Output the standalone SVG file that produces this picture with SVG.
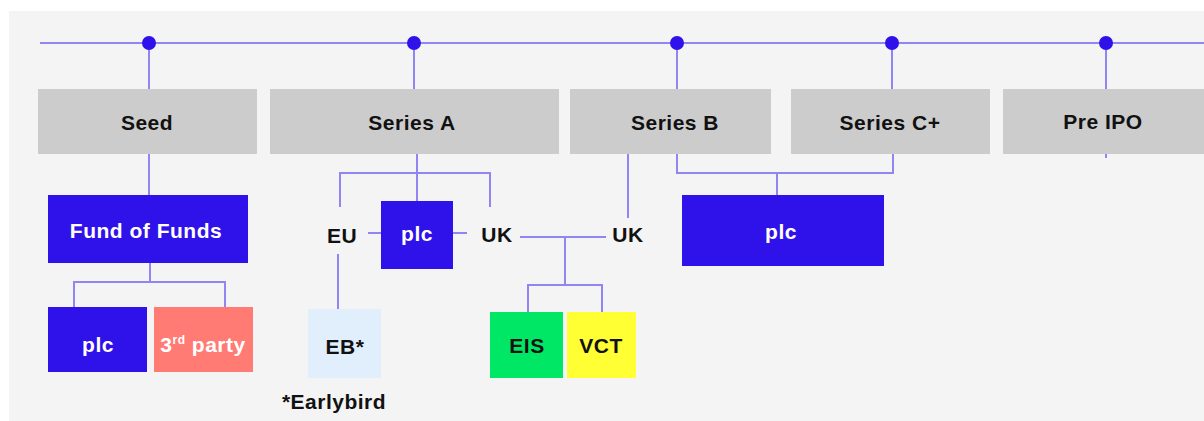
<svg xmlns="http://www.w3.org/2000/svg" width="1204" height="421" viewBox="0 0 1204 421">
<style>
.ln{stroke:#9085f2;stroke-width:2;fill:none}
.dot{fill:#2f12ea}
.stage{fill:#cccccc}
.blue{fill:#2f12ea}
.t{font-family:"Liberation Sans",Arial,sans-serif;font-weight:bold;font-size:21px;text-anchor:middle;letter-spacing:0.5px}
.dk{fill:#111111}
.wh{fill:#ffffff}
</style>
<rect x="0" y="0" width="1204" height="421" fill="#ffffff"/>
<rect x="9" y="11" width="1195" height="410" fill="#f4f4f4"/>
<g id="connectors">
<path class="ln" d="M40 43H1204"/>
<path class="ln" d="M149 43V89M414 43V89M677 43V89M892 43V89M1106 43V89M1106 154V158"/>
<path class="ln" d="M149 154V195"/>
<path class="ln" d="M150 263V282M74 307V282H225V307"/>
<path class="ln" d="M417 154V201M340 207V173H490V207"/>
<path class="ln" d="M368 233H381M453 233H467"/>
<path class="ln" d="M338 254V310"/>
<path class="ln" d="M520 237H606M565 237V285M528 312V285H602V312"/>
<path class="ln" d="M628 154V218"/>
<path class="ln" d="M677 154V173H893V154M777 173V195"/>
</g>
<g id="dots">
<circle class="dot" cx="149" cy="43" r="7"/>
<circle class="dot" cx="414" cy="43" r="7"/>
<circle class="dot" cx="677" cy="43" r="7"/>
<circle class="dot" cx="892" cy="43" r="7"/>
<circle class="dot" cx="1106" cy="43" r="7"/>
</g>
<g id="seed"><rect class="stage" x="38" y="89" width="219" height="65"/><text class="t dk" x="147" y="130">Seed</text></g>
<g id="series-a"><rect class="stage" x="270" y="89" width="289" height="65"/><text class="t dk" x="412" y="130">Series A</text></g>
<g id="series-b"><rect class="stage" x="570" y="89" width="201" height="65"/><text class="t dk" x="675" y="130">Series B</text></g>
<g id="series-c"><rect class="stage" x="791" y="89" width="199" height="65"/><text class="t dk" x="890" y="130">Series C+</text></g>
<g id="pre-ipo"><rect class="stage" x="1003" y="89" width="201" height="65"/><text class="t dk" x="1103" y="129">Pre IPO</text></g>
<g id="fund-of-funds"><rect class="blue" x="48" y="195" width="200" height="68"/><text class="t wh" x="146" y="238">Fund of Funds</text></g>
<g id="plc-seed"><rect class="blue" x="48" y="307" width="99" height="65"/><text class="t wh" x="98" y="352">plc</text></g>
<g id="third-party"><rect x="154" y="307" width="99" height="65" fill="#ff7b74"/><text class="t wh" x="203" y="352">3<tspan font-size="12" dy="-8">rd</tspan><tspan dy="8"> party</tspan></text></g>
<g id="eu"><text class="t dk" x="342" y="243">EU</text></g>
<g id="plc-a"><rect class="blue" x="381" y="201" width="72" height="68"/><text class="t wh" x="417" y="241">plc</text></g>
<g id="uk-a"><text class="t dk" x="497" y="242">UK</text></g>
<g id="eb"><rect x="308" y="309" width="73" height="69" fill="#e1effd"/><text class="t dk" x="345" y="354">EB*</text></g>
<g id="earlybird-note"><text class="t dk" x="334" y="409">*Earlybird</text></g>
<g id="uk-b"><text class="t dk" x="628" y="242">UK</text></g>
<g id="eis"><rect x="490" y="312" width="73" height="66" fill="#00e765"/><text class="t dk" x="527" y="353">EIS</text></g>
<g id="vct"><rect x="567" y="312" width="69" height="66" fill="#ffff33"/><text class="t dk" x="601" y="353">VCT</text></g>
<g id="plc-bc"><rect class="blue" x="682" y="195" width="202" height="71"/><text class="t wh" x="781" y="239">plc</text></g>
</svg>
